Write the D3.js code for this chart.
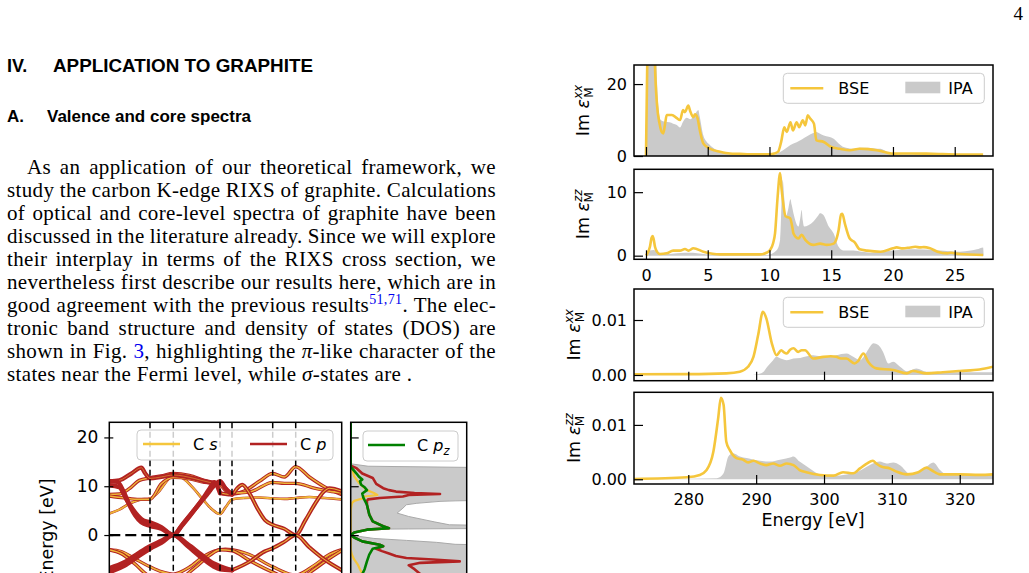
<!DOCTYPE html>
<html>
<head>
<meta charset="utf-8">
<script src="https://cdn.jsdelivr.net/npm/d3@7"></script>
<style>
  body { margin: 0; background: #fff; }
  svg { display: block; }
  .chart text { font-family: 'DejaVu Sans', sans-serif; fill: #000; }
  .page text { font-family: 'Liberation Serif', serif; fill: #000; }
</style>
</head>
<body>
<svg id="page" width="1029" height="573"></svg>
<script>
// ---- Data ----
// Valence spectra, Im eps_M (x: energy in eV)
const valXxBse = [[0,0],[0.1,25],[0.2,45],[0.6,45],[0.73,25],[0.9,14],[1.1,9],[1.27,6.7],[1.4,6.3],[1.55,9],[1.68,11.4],[2.1,11.4],[2.5,10.5],[2.76,10.0],[3.0,12.8],[3.15,12.2],[3.43,14.0],[3.57,12.6],[3.83,10.8],[3.97,11.6],[4.15,10.8],[4.38,6.8],[4.64,3.5],[5.05,2.3],[5.2,2.0],[6.0,1.2],[6.8,0.7],[7.6,0.6],[8.4,0.45],[10.0,0.45],[10.4,0.7],[10.7,1.2],[10.95,4],[11.2,8.0],[11.4,6.7],[11.7,9.4],[11.9,7.1],[12.2,9.4],[12.4,8.0],[12.7,9.9],[12.9,8.5],[13.1,11.3],[13.3,10.4],[13.6,9.0],[13.8,4.35],[14.4,3.9],[15.0,2.5],[15.7,2.0],[16.5,1.6],[17.3,2.0],[18.0,1.9],[18.7,1.6],[20.0,0.65],[21.5,0.7],[22.7,0.65],[24.0,0.55],[25.4,0.4],[27.3,0.4]];
const valXxIpa = [[0,0],[0.05,20],[0.15,45],[0.7,45],[0.85,25],[1.0,14],[1.2,10],[1.54,9.5],[1.9,9.4],[2.2,9.0],[2.5,8.6],[2.76,7.9],[3.0,9.5],[3.3,10.6],[3.6,10.2],[3.83,11.0],[4.0,11.8],[4.24,12.8],[4.35,11],[4.64,5.8],[4.9,4.0],[5.19,3.0],[5.73,1.6],[6.8,0.7],[8.0,0.4],[10.0,0.2],[10.3,0.2],[10.7,0.8],[11.1,1.6],[11.5,2.6],[11.9,3.4],[12.2,3.8],[12.5,4.35],[12.8,5.0],[13.15,5.7],[13.5,6.3],[13.8,6.7],[14.1,6.2],[14.4,5.7],[15.2,4.8],[15.6,3.5],[16.0,2.5],[16.8,2.0],[17.3,2.3],[17.9,2.3],[18.5,2.1],[19.0,2.0],[19.5,1.2],[20.0,0.65],[21.0,0.5],[22.7,0.45],[25.0,0.3],[27.3,0.2],[27.35,0]];
const valZzBse = [[0,0],[0.32,1.4],[0.45,2.8],[0.54,3.1],[0.62,2.6],[0.73,1.4],[0.9,0.6],[1.13,0.26],[1.67,0.37],[2.2,0.8],[2.75,0.8],[3.16,1.05],[3.43,0.8],[3.84,1.16],[4.65,0.63],[6.0,0.21],[8.0,0.2],[9.24,0.21],[9.8,0.5],[10.05,0.9],[10.3,2.0],[10.45,3.5],[10.65,9],[10.86,13.0],[10.98,10.5],[11.13,8.0],[11.3,6.2],[11.67,5.9],[11.85,4.5],[11.94,3.5],[12.35,2.7],[12.6,3.3],[12.9,2.5],[13.56,1.7],[14.1,1.9],[14.64,1.7],[15.2,1.9],[15.45,2.8],[15.6,4.05],[15.8,6.5],[15.9,6.6],[16.1,5.1],[16.5,2.7],[16.9,2.1],[17.3,1.0],[17.9,0.8],[19.0,0.63],[20.0,1.16],[20.3,1.3],[20.8,1.15],[21.4,1.3],[21.8,1.4],[22.2,1.3],[22.5,1.35],[23.0,1.16],[23.6,0.63],[24.4,0.37],[24.7,0.45],[25.4,0.26],[27.3,0.1]];
const valZzIpa = [[0,0],[0.1,0.63],[0.3,0.8],[0.6,0.9],[1.0,0.5],[1.7,0.26],[2.5,0.4],[3.8,0.47],[4.5,0.3],[6,0.1],[9.8,0.1],[10.6,0.9],[10.86,2.5],[11.07,11.9],[11.2,9],[11.3,6.0],[11.5,7.2],[11.7,8.9],[11.8,8.0],[11.94,6.7],[12.35,4.6],[12.5,6.0],[12.6,7.2],[12.7,5.5],[12.8,4.6],[13.15,4.8],[13.56,5.4],[13.9,6.2],[14.1,6.7],[14.37,6.4],[14.8,4.6],[15.2,3.5],[15.6,1.4],[16.0,0.8],[16.8,0.8],[17.5,0.6],[18.15,0.47],[19.0,0.6],[20,0.8],[21.7,1.0],[23.3,0.9],[25.4,0.63],[26.3,0.8],[26.8,1.0],[27.3,1.3],[27.35,0]];

// Core (C K-edge) spectra, Im eps_M in units of 1e-3 (x: energy in eV)
const coreXxBse = [[272,0.12],[280,0.15],[285.6,0.3],[287.6,0.6],[288.8,1.5],[289.6,3.3],[290.3,7.3],[291.0,11.5],[291.5,10.3],[292.3,5.8],[293.0,3.6],[293.7,4.5],[294.1,4.1],[294.5,3.9],[295.0,4.6],[295.5,4.85],[296.2,4.2],[296.7,4.5],[297.2,4.5],[298.4,3.0],[299.9,3.3],[301.0,3.4],[301.8,3.3],[302.5,3.0],[303.3,3.0],[304.5,2.1],[305.0,2.5],[305.8,3.9],[306.5,2.4],[307.7,1.2],[310.2,0.9],[312.2,0.3],[313.1,0.73],[315.1,0.3],[317.5,0.5],[320.0,0.73],[322.9,1.0],[324.9,1.5]];
const coreXxIpa = [[272,0],[289,0],[290,0.1],[291,0.5],[291.7,1.6],[292.5,2.7],[293,3.3],[293.6,3.0],[294.5,2.7],[295.5,3.0],[296.5,3.1],[297.5,3.4],[298.4,3.6],[299.4,3.4],[300.4,3.3],[301.8,3.6],[303.3,3.9],[304.3,3.3],[305.3,2.7],[306.3,4.2],[307.3,5.75],[308,5.45],[308.7,4.2],[309.5,2.1],[310.2,2.4],[311.2,1.5],[312.2,0.7],[313.6,1.2],[315.1,0.6],[320,0.5],[324.9,0.5]];
const coreZzBse = [[272,0.06],[279.8,0.37],[281.7,0.8],[282.7,1.7],[283.7,5.1],[284.4,11.2],[284.8,15.0],[285.2,13.7],[285.6,6.9],[286.1,5.4],[287.1,3.9],[288.1,3.6],[288.8,3.1],[289.6,3.4],[290.6,2.9],[291.5,2.6],[292.5,2.9],[293.5,2.5],[294.5,2.9],[295.5,2.6],[296.4,1.7],[297.4,1.3],[299.4,0.8],[301.4,0.67],[302.8,1.3],[304.3,1.1],[305.3,2.0],[306.3,2.9],[307.2,3.4],[307.7,2.9],[308.5,2.3],[309.7,2.0],[310.7,1.4],[312.2,0.9],[313.9,1.3],[315.1,2.15],[315.8,1.7],[317.1,0.9],[320,0.9],[322.9,0.8],[324.9,0.9]];
const coreZzIpa = [[272,0],[284.2,0.2],[285.2,1.1],[285.9,4.2],[286.6,4.8],[287.6,4.2],[288.6,3.9],[289.6,3.6],[290.6,3.4],[292,3.25],[293.5,3.6],[295,4.0],[295.5,4.2],[296.4,3.25],[297.9,2.0],[299.4,0.9],[301.4,0.67],[303.3,0.9],[304.8,1.3],[306.3,2.3],[307.2,2.9],[308.2,3.25],[309.2,2.9],[310.2,3.1],[311.2,2.6],[312.6,1.1],[313.9,1.3],[315.1,2.3],[316.1,3.1],[317.1,1.7],[318.0,0.9],[324.9,0.9]];

const valTicks = [0, 5, 10, 15, 20, 25];
const coreTicks = [280, 290, 300, 310, 320];

// Band structure: path Γ-M-K-Γ-A-L-H-A (k in path length units), E in eV
const kSymPos = [0, 40.7, 64, 110.7, 122.7, 163.4, 186.4, 232.4];
const kSymLabels = ['Γ', 'M', 'K', 'Γ', 'A', 'L', 'H', 'A'];
const bandPiCond1 = [[0,11.0],[8,10.9],[14,9.0],[20,6.2],[26,4.0],[32,2.6],[40.7,1.9],[52,1.3],[64,0],[72,1.8],[80,3.8],[92,7.0],[100,9.4],[105,10.8],[108,10.0],[110.7,8.6]];
const bandPiCond2 = [[0,10.2],[10,9.8],[18,7.0],[26,4.6],[34,3.0],[40.7,2.6],[52,1.6],[64,0],[74,2.4],[86,5.4],[98,8.4],[106,10.4],[110.7,11.0],[116,9.6],[122.7,8.3]];
const bandPiCondA = [[110.7,8.6],[116,8.4],[122.7,8.3],[128,9.6],[133,10.3],[140,8.6],[148,5.5],[156,3.0],[163.4,2.1],[175,1.3],[186.4,0],[196,3.0],[206,6.5],[214,8.8],[220,9.6],[226,9.4],[232.4,9.0]];
const bandPiVal1 = [[0,-7.6],[15,-6.3],[30,-4.2],[40.7,-2.8],[52,-1.6],[64,0],[78,-2.2],[92,-4.6],[104,-6.4],[110.7,-7.0],[122.7,-7.2]];
const bandPiVal2 = [[0,-6.8],[15,-5.6],[30,-3.6],[40.7,-2.3],[52,-1.2],[64,0],[78,-1.8],[92,-4.0],[104,-5.8],[110.7,-6.4],[122.7,-7.2]];
const bandPiValA = [[122.7,-7.2],[140,-5.5],[155,-3.4],[163.4,-2.7],[175,-1.4],[186.4,0],[200,-2.5],[215,-5.0],[232.4,-7.2]];
const bandSigVal1 = [[0,-3.0],[12,-3.4],[25,-4.8],[40.7,-6.5],[52,-7.5],[64,-8.0],[80,-6.6],[95,-4.3],[105,-3.3],[110.7,-3.0],[116,-2.9],[122.7,-3.0],[140,-4.0],[163.4,-6.5],[186.4,-8.2],[205,-6.2],[220,-4.0],[232.4,-3.0]];
const bandSigVal2 = [[0,-3.0],[12,-3.8],[25,-5.8],[40.7,-8.5],[64,-9.5],[85,-6.8],[100,-4.2],[110.7,-3.0],[122.7,-3.2],[140,-5.2],[163.4,-7.6],[186.4,-9.3],[205,-7.0],[220,-4.8],[232.4,-3.2]];
const bandSigCond1 = [[0,4.4],[10,5.2],[20,6.4],[30,7.2],[40.7,7.5],[50,9.0],[58,11.2],[64,12.4],[74,11.6],[84,9.6],[94,7.2],[102,5.4],[110.7,4.3],[116,5.6],[122.7,7.3],[135,7.6],[150,7.7],[163.4,7.5],[175,7.4],[186.4,7.6],[200,7.8],[215,7.6],[232.4,7.3]];
const bandSigCond2 = [[0,8.3],[10,8.4],[20,9.5],[30,11.2],[40.7,11.7],[52,12.1],[64,12.6],[80,12.2],[95,11.2],[110.7,10.3],[116,9.2],[122.7,8.4],[135,9.0],[150,11.0],[163.4,12.6],[175,11.9],[186.4,14.0],[200,11.9],[215,9.9],[232.4,8.3]];
const bandSigCond3 = [[0,8.0],[15,7.6],[30,7.3],[40.7,7.3],[52,10.5],[64,11.8],[80,11.5],[95,10.8],[110.7,10.6],[122.7,8.6],[140,8.8],[163.4,10.8],[175,10.6],[186.4,10.6],[205,9.6],[220,9.0],[232.4,8.6]];
const bandPCond = [[0,11.0],[10,11.2],[22,12.6],[32,13.8],[36,12.6],[40.7,11.6],[52,11.9],[64,12.3],[85,11.6],[100,10.8],[110.7,10.6]];
// s-character of each band (0 = pure p, 1 = pure s)
const bandSChar = [0.6, 0.5, 0.9, 0.5, 0.6, 0.15, 0.3, 0.3, 0.05, 0.05, 0.05, 0.05];

// Projected DOS: [E (eV), DOS (arb. units)]
const dosTotal = [[23,0],[14.6,0],[14.1,0.15],[13.7,1.6],[8.0,1.6],[7.3,1.6],[7.0,0.9],[6.9,0.77],[6.5,0.57],[6.2,0.48],[5.5,0.45],[4.5,0.4],[3.8,0.5],[3.1,0.64],[2.7,0.72],[2.1,0.85],[1.8,1.6],[1.4,1.6],[1.25,0.5],[1.2,0.15],[0.8,0.08],[0.4,0.04],[0,0],[-0.3,0.08],[-0.7,0.2],[-1.1,0.48],[-1.5,0.74],[-1.9,0.9],[-2.2,1.6],[-9,1.6]];
const dosP = [[23,0],[14.2,0],[13.7,0.05],[12.6,0.1],[11.7,0.19],[10.5,0.22],[9.6,0.28],[9.2,0.33],[8.9,0.39],[8.6,0.55],[8.4,0.77],[8.2,0.5],[7.9,0.45],[7.6,0.25],[7.3,0.15],[7.0,0.14],[6.2,0.14],[4.2,0.16],[2.8,0.19],[1.8,0.28],[1.4,0.33],[1.1,0.14],[0.5,0.03],[0,0],[-0.5,0.03],[-1.3,0.1],[-2.0,0.25],[-2.3,0.28],[-2.8,0.22],[-3.3,0.27],[-3.8,0.33],[-4.3,0.39],[-4.7,0.48],[-5.0,0.71],[-5.4,0.94],[-5.7,0.6],[-6.2,0.5],[-7,0.55],[-8,0.6]];
const dosPz = [[23,0],[14.0,0],[13.7,0.01],[12.6,0.05],[12.0,0.07],[11.4,0.1],[11.0,0.08],[10.3,0.09],[9.8,0.12],[9.2,0.14],[8.5,0.1],[7.6,0.11],[6.2,0.14],[4.2,0.16],[2.8,0.19],[1.8,0.28],[1.4,0.33],[1.1,0.14],[0.5,0.03],[0,0],[-0.5,0.03],[-1.3,0.1],[-2.0,0.25],[-2.3,0.28],[-2.8,0.19],[-4.0,0.16],[-5.4,0.14],[-7,0.12],[-8,0.1]];
const dosS = [[23,0],[14.2,0],[13.7,0.01],[12.0,0.03],[10.7,0.07],[9.2,0.14],[8.6,0.2],[8.2,0.23],[7.9,0.12],[7.5,0.1],[7.0,0.03],[6.5,0.01],[5,0],[-3,0],[-4,0.01],[-5,0.03],[-6,0.06],[-7,0.08],[-8,0.1]];
const bandTicks = [20, 10, 0];

// Page text
const pageNumber = '4';
const sectionTitle = ['IV.', 'APPLICATION TO GRAPHITE'];
const subsectionTitle = ['A.', 'Valence and core spectra'];
const paragraph = [
  [['As an application of our theoretical framework, we']],
  [['study the carbon K-edge RIXS of graphite. Calculations']],
  [['of optical and core-level spectra of graphite have been']],
  [['discussed in the literature already. Since we will explore']],
  [['their interplay in terms of the RIXS cross section, we']],
  [['nevertheless first describe our results here, which are in']],
  [['good agreement with the previous results'], ['51,71', 'sup'], ['. The elec-']],
  [['tronic band structure and density of states (DOS) are']],
  [['shown in Fig. '], ['3', 'ref'], [', highlighting the '], ['π', 'it'], ['-like character of the']],
  [['states near the Fermi level, while '], ['σ', 'it'], ['-states are .']]
];

// ---- Drawing ----
const YELLOW = '#f5c63c';
const RED = '#b22222';
const GREEN = '#008000';
const GRAY = '#cacaca';

const svg = d3.select('#page');
const defs = svg.append('defs');
const chart = svg.append('g').attr('class', 'chart');

const clip = (id, x, y, w, h) => {
  defs.append('clipPath').attr('id', id).append('rect')
    .attr('x', x).attr('y', y).attr('width', w).attr('height', h);
  return `url(#${id})`;
};

const styleAxis = (a, size) => {
  a.attr('font-size', size).attr('font-family', null);
  a.select('.domain').remove();
  a.selectAll('.tick line').attr('stroke-width', 1.2);
};

// Im eps label with super/subscript
const yLabel = (cx, cy, sup) => {
  const t = chart.append('text')
    .attr('transform', `translate(${cx},${cy}) rotate(-90)`)
    .attr('text-anchor', 'middle')
    .attr('font-size', 17.5);
  t.append('tspan').text('Im ');
  t.append('tspan').attr('font-style', 'italic').text('ε');
  t.append('tspan').attr('font-size', 12).attr('font-style', 'italic').attr('dy', -7).text(sup);
  t.append('tspan').attr('font-size', 12).attr('dx', -13).attr('dy', 11).text('M');
};

// Right column: four spectra panels
const left = 634;
const right = 993;
const xVal = d3.scaleLinear().domain([-0.97, 28.1]).range([left, right]);
const xCore = d3.scaleLinear().domain([272, 324.9]).range([left, right]);
const intFmt = d3.format('d');
const milliFmt = (v) => (v / 1000).toFixed(2);

const panels = [
  { top: 65, bottom: 156, x: xVal, dom: [0, 25.3], bse: valXxBse, ipa: valXxIpa, xt: valTicks, xl: false, yt: [0, 20], fmt: intFmt, sup: 'xx', lx: 589, legend: true },
  { top: 169.3, bottom: 259.3, x: xVal, dom: [-0.57, 13.6], bse: valZzBse, ipa: valZzIpa, xt: valTicks, xl: true, yt: [0, 10], fmt: intFmt, sup: 'zz', lx: 589 },
  { top: 289, bottom: 380.7, x: xCore, dom: [-1.04, 15.64], bse: coreXxBse, ipa: coreXxIpa, xt: coreTicks, xl: false, yt: [0, 10], fmt: milliFmt, sup: 'xx', lx: 580, legend: true },
  { top: 392.3, bottom: 484, x: xCore, dom: [-0.87, 16.0], bse: coreZzBse, ipa: coreZzIpa, xt: coreTicks, xl: true, yt: [0, 10], fmt: milliFmt, sup: 'zz', lx: 580 },
];

panels.forEach((p, i) => {
  const y = d3.scaleLinear().domain(p.dom).range([p.bottom, p.top]);
  const g = chart.append('g');
  const plot = g.append('g').attr('clip-path', clip(`clip-p${i}`, left, p.top, right - left, p.bottom - p.top));

  plot.append('path')
    .datum(p.ipa)
    .attr('fill', GRAY)
    .attr('d', d3.area().x((d) => p.x(d[0])).y0(y(0)).y1((d) => y(d[1])).curve(d3.curveMonotoneX));

  plot.append('path')
    .datum(p.bse)
    .attr('fill', 'none')
    .attr('stroke', YELLOW)
    .attr('stroke-width', 2.6)
    .attr('stroke-linejoin', 'round')
    .attr('d', d3.line().x((d) => p.x(d[0])).y((d) => y(d[1])).curve(d3.curveMonotoneX));

  g.append('g')
    .attr('transform', `translate(0,${p.bottom})`)
    .call(d3.axisBottom(p.x).tickValues(p.xt).tickSizeInner(-9).tickSizeOuter(0).tickPadding(10)
      .tickFormat(p.xl ? intFmt : () => ''))
    .call((a) => styleAxis(a, 16));

  g.append('g')
    .attr('transform', `translate(${left},0)`)
    .call(d3.axisLeft(y).tickValues(p.yt).tickSizeInner(-9).tickSizeOuter(0).tickPadding(7).tickFormat(p.fmt))
    .call((a) => styleAxis(a, 16));

  g.append('rect')
    .attr('x', left).attr('y', p.top)
    .attr('width', right - left).attr('height', p.bottom - p.top)
    .attr('fill', 'none').attr('stroke', '#000').attr('stroke-width', 1.5);

  yLabel(p.lx, (p.top + p.bottom) / 2, p.sup);

  if (p.legend) {
    const lg = g.append('g').attr('transform', `translate(783.3,${p.top + 8.3})`);
    lg.append('rect').attr('width', 201).attr('height', 30).attr('rx', 4)
      .attr('fill', '#fff').attr('fill-opacity', 0.8).attr('stroke', '#ccc');
    lg.append('line').attr('x1', 7).attr('x2', 40).attr('y1', 15).attr('y2', 15)
      .attr('stroke', YELLOW).attr('stroke-width', 2.6);
    lg.append('text').attr('x', 55).attr('y', 21).attr('font-size', 16).text('BSE');
    lg.append('rect').attr('x', 122).attr('y', 8.4).attr('width', 35).attr('height', 11.6).attr('fill', GRAY);
    lg.append('text').attr('x', 165).attr('y', 21).attr('font-size', 16).text('IPA');
  }
});

chart.append('text')
  .attr('x', 813).attr('y', 526)
  .attr('text-anchor', 'middle')
  .attr('font-size', 17.5)
  .text('Energy [eV]');

// Bottom-left: band structure and DOS
const kScale = d3.scaleLinear().domain([0, 232.4]).range([109.3, 341.7]);
const eScale = d3.scaleLinear().domain([-22, 23.1]).range([642.4, 422.3]);
const dosScale = d3.scaleLinear().domain([0, 1]).range([350.7, 466.7]);

const bandG = chart.append('g');
const bandPlot = bandG.append('g').attr('clip-path', clip('clip-band', 109.3, 422.3, 232.4, 230));

const bandLine = d3.line().x((d) => kScale(d[0])).y((d) => eScale(d[1])).curve(d3.curveMonotoneX);
const bandSet = [bandSigVal1, bandSigVal2, bandSigCond1, bandSigCond2, bandSigCond3, bandPCond,
  bandPiCondA, bandPiValA, bandPiCond1, bandPiCond2, bandPiVal1, bandPiVal2];

bandSet.forEach((pts, i) => {
  const s = bandSChar[i];
  const wRed = 2.4 + 2.2 * (1 - s);
  const wYel = s * (wRed - 0.6);
  bandPlot.append('path').datum(pts)
    .attr('fill', 'none').attr('stroke', RED).attr('stroke-width', wRed)
    .attr('stroke-linecap', 'round').attr('d', bandLine);
  if (wYel > 0.2) {
    bandPlot.append('path').datum(pts)
      .attr('fill', 'none').attr('stroke', YELLOW).attr('stroke-opacity', 0.9)
      .attr('stroke-width', wYel).attr('d', bandLine);
  }
});

// high-symmetry lines and Fermi level
bandPlot.selectAll('.ksym')
  .data(kSymPos.slice(1, -1))
  .enter().append('line')
  .attr('x1', (d) => kScale(d)).attr('x2', (d) => kScale(d))
  .attr('y1', eScale(23.1)).attr('y2', eScale(-22))
  .attr('stroke', '#000').attr('stroke-width', 1.5).attr('stroke-dasharray', '6,3.5');

bandPlot.append('line')
  .attr('x1', kScale(0)).attr('x2', kScale(232.4))
  .attr('y1', eScale(0)).attr('y2', eScale(0))
  .attr('stroke', '#000').attr('stroke-width', 2.2).attr('stroke-dasharray', '11,5');

bandG.append('g')
  .attr('transform', `translate(${kScale(0) + 4},0)`)
  .call(d3.axisLeft(eScale).tickValues(bandTicks).tickSize(9).tickPadding(6).tickFormat(intFmt))
  .call((a) => styleAxis(a, 17));

bandG.append('rect')
  .attr('x', 109.3).attr('y', 422.3).attr('width', 232.4).attr('height', 230)
  .attr('fill', 'none').attr('stroke', '#000').attr('stroke-width', 1.5);

bandG.append('text')
  .attr('transform', `translate(53,530) rotate(-90)`)
  .attr('text-anchor', 'middle')
  .attr('font-size', 17.5)
  .text('Energy [eV]');

// band legend
const bl = bandG.append('g').attr('transform', 'translate(137,430)');
bl.append('rect').attr('width', 196).attr('height', 30).attr('rx', 4)
  .attr('fill', '#fff').attr('fill-opacity', 0.8).attr('stroke', '#ccc');
bl.append('line').attr('x1', 6).attr('x2', 43).attr('y1', 14).attr('y2', 14)
  .attr('stroke', YELLOW).attr('stroke-width', 2.6);
const ls = bl.append('text').attr('x', 56).attr('y', 20).attr('font-size', 16);
ls.append('tspan').text('C ');
ls.append('tspan').attr('font-style', 'italic').text('s');
bl.append('line').attr('x1', 113).attr('x2', 150).attr('y1', 14).attr('y2', 14)
  .attr('stroke', RED).attr('stroke-width', 2.6);
const lp = bl.append('text').attr('x', 163).attr('y', 20).attr('font-size', 16);
lp.append('tspan').text('C ');
lp.append('tspan').attr('font-style', 'italic').text('p');

// DOS panel
const dosG = chart.append('g');
const dosPlot = dosG.append('g').attr('clip-path', clip('clip-dos', 350.7, 422.3, 116, 230));

dosPlot.append('path').datum(dosTotal)
  .attr('fill', GRAY).attr('stroke', '#a9a9a9').attr('stroke-width', 1)
  .attr('d', d3.area().y((d) => eScale(d[0])).x0(dosScale(0)).x1((d) => dosScale(d[1])));

const dosLine = d3.line().x((d) => dosScale(d[1])).y((d) => eScale(d[0]));
[[dosS, YELLOW, 2.2], [dosP, RED, 2.6], [dosPz, GREEN, 2.6]].forEach(([data, color, w]) => {
  dosPlot.append('path').datum(data)
    .attr('fill', 'none').attr('stroke', color).attr('stroke-width', w)
    .attr('stroke-linejoin', 'round').attr('d', dosLine);
});

dosG.append('g')
  .attr('transform', `translate(${dosScale(0)},0)`)
  .call(d3.axisLeft(eScale).tickValues(bandTicks).tickSizeInner(-8).tickSizeOuter(0).tickFormat(() => ''))
  .call((a) => styleAxis(a, 16));

dosG.append('rect')
  .attr('x', 350.7).attr('y', 422.3).attr('width', 116).attr('height', 230)
  .attr('fill', 'none').attr('stroke', '#000').attr('stroke-width', 1.5);

const dl = dosG.append('g').attr('transform', 'translate(363,431)');
dl.append('rect').attr('width', 95).attr('height', 30).attr('rx', 4)
  .attr('fill', '#fff').attr('fill-opacity', 0.8).attr('stroke', '#ccc');
dl.append('line').attr('x1', 5).attr('x2', 42).attr('y1', 14).attr('y2', 14)
  .attr('stroke', GREEN).attr('stroke-width', 2.6);
const lz = dl.append('text').attr('x', 54).attr('y', 20).attr('font-size', 16);
lz.append('tspan').text('C ');
lz.append('tspan').attr('font-style', 'italic').text('p');
lz.append('tspan').attr('font-style', 'italic').attr('font-size', 11.5).attr('dy', 4).text('z');

// ---- Page text ----
const page = svg.append('g').attr('class', 'page');

page.append('text')
  .attr('x', 1023).attr('y', 20).attr('text-anchor', 'end')
  .style('font-size', '19px').text(pageNumber);

const heading = (x, y, s, size, len) => {
  const t = page.append('text').attr('x', x).attr('y', y)
    .style('font-family', "'Liberation Sans', sans-serif")
    .style('font-weight', 'bold').style('font-size', `${size}px`).text(s);
  if (len) t.attr('textLength', len).attr('lengthAdjust', 'spacingAndGlyphs');
};
heading(7, 72, sectionTitle[0], 18);
heading(53, 72, sectionTitle[1], 18, 260);
heading(7, 122, subsectionTitle[0], 17);
heading(47, 122, subsectionTitle[1], 17, 204);

paragraph.forEach((segs, i) => {
  const x0 = i === 0 ? 27 : 7;
  const t = page.append('text')
    .attr('x', x0).attr('y', 174 + i * 23)
    .style('font-size', '21px')
    .style('letter-spacing', '0.35px');
  let spaces = 0;
  segs.forEach(([s, kind], j) => {
    const ts = t.append('tspan').text(s);
    if (kind === 'sup') {
      ts.attr('dy', -8).style('font-size', '14px').attr('fill', '#0000ee');
    } else if (kind === 'ref') {
      ts.attr('fill', '#0000ee');
    } else if (kind === 'it') {
      ts.style('font-style', 'italic');
    }
    // restore baseline after a superscript
    if (j > 0 && segs[j - 1][1] === 'sup') ts.attr('dy', 8);
    spaces += (s.match(/ /g) || []).length;
  });
  if (i < paragraph.length - 1 && spaces > 0) {
    const w = t.node().getComputedTextLength();
    const target = 496 - x0;
    t.attr('word-spacing', (target - w) / spaces);
  }
});
</script>
</body>
</html>
